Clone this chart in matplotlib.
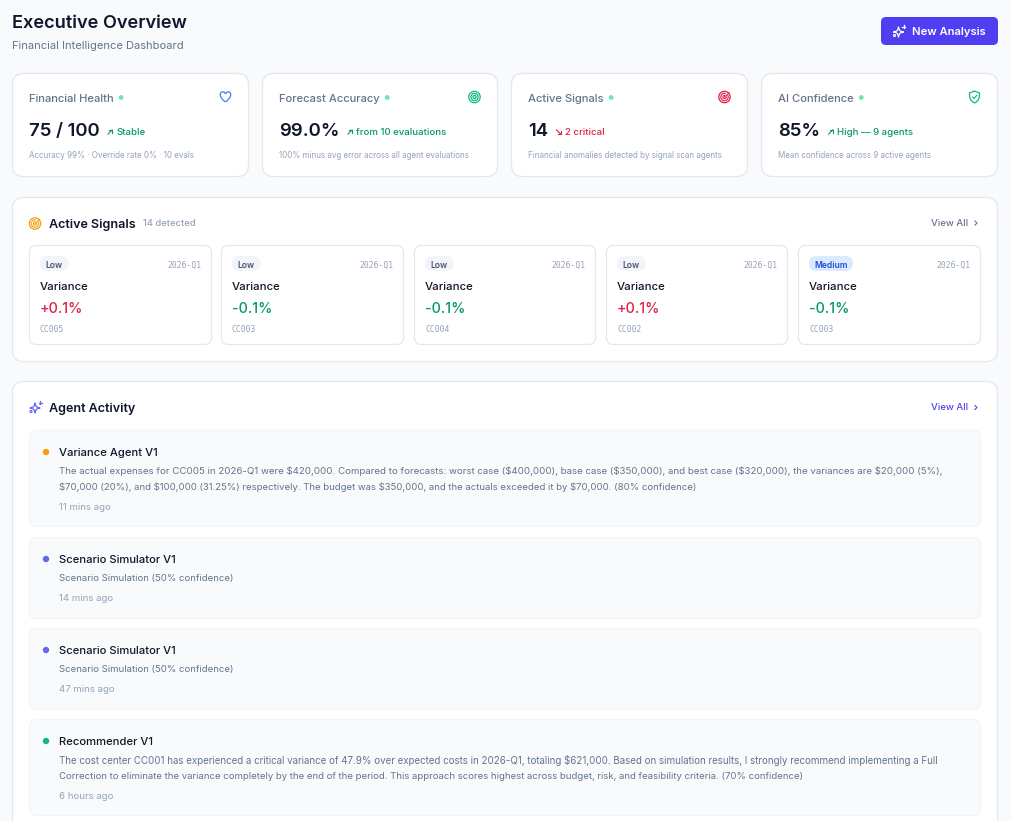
import matplotlib
matplotlib.use("Agg")
import matplotlib.pyplot as plt
from matplotlib.patches import FancyBboxPatch, Circle, PathPatch, Arc
from matplotlib.path import Path

plt.rcParams['font.family'] = ['Inter', 'DejaVu Sans']

# stat cards
card_labels = ["Financial Health", "Forecast Accuracy", "Active Signals", "AI Confidence"]
card_values = ["75 / 100", "99.0%", "14", "85%"]
card_deltas = ["Stable", "from 10 evaluations", "2 critical", "High — 9 agents"]
card_notes = ["Accuracy 99% · Override rate 0% · 10 evals",
              "100% minus avg error across all agent evaluations",
              "Financial anomalies detected by signal scan agents",
              "Mean confidence across 9 active agents"]
card_icons = ["heart", "target", "radar", "shield"]

# signal cards
signal_levels = ["Low", "Low", "Low", "Low", "Medium"]
signal_periods = ["2026-Q1"] * 5
signal_names = ["Variance"] * 5
signal_values = ["+0.1%", "-0.1%", "-0.1%", "+0.1%", "-0.1%"]
signal_codes = ["CC005", "CC003", "CC004", "CC002", "CC003"]

# agent activity
agent_names = ["Variance Agent V1", "Scenario Simulator V1", "Scenario Simulator V1", "Recommender V1"]
agent_times = ["11 mins ago", "14 mins ago", "47 mins ago", "6 hours ago"]
agent_colors = ["#f59e0b", "#6366f1", "#6366f1", "#10b981"]
agent_texts = [
    ["The actual expenses for CC005 in 2026-Q1 were $420,000. Compared to forecasts: worst case ($400,000), base case ($350,000), and best case ($320,000), the variances are $20,000 (5%),",
     "$70,000 (20%), and $100,000 (31.25%) respectively. The budget was $350,000, and the actuals exceeded it by $70,000. (80% confidence)"],
    ["Scenario Simulation (50% confidence)"],
    ["Scenario Simulation (50% confidence)"],
    ["The cost center CC001 has experienced a critical variance of 47.9% over expected costs in 2026-Q1, totaling $621,000. Based on simulation results, I strongly recommend implementing a Full",
     "Correction to eliminate the variance completely by the end of the period. This approach scores highest across budget, risk, and feasibility criteria. (70% confidence)"],
]
# browser hinting makes each line a touch wider or narrower
agent_line_px = [[9.7, 9.53], [9.55], [9.55], [9.73, 9.56]]

INK = "#0f172a"
SLATE = "#64748b"
MUTED = "#94a3b8"
BORDER = "#e2e8f0"
GREEN = "#059669"
RED = "#e11d48"
BLUE = "#3b82f6"
INDIGO = "#4f3ff0"

W, H = 1011, 821
fig = plt.figure(figsize=(W / 100, H / 100), dpi=100, facecolor="#f8fafc")
ax = fig.add_axes([0, 0, 1, 1])
ax.set_xlim(0, W)
ax.set_ylim(H, 0)
ax.axis("off")


def box(x, y, w, h, r, fc="white", ec=BORDER, lw=0.9, z=1):
    p = FancyBboxPatch((x + r, y + r), w - 2 * r, h - 2 * r, boxstyle=f"round,pad={r},rounding_size={r}",
                       fc=fc, ec=ec, lw=lw, zorder=z, mutation_aspect=1)
    ax.add_patch(p)


def txt(x, y, s, px, color=INK, weight="normal", ha="left", family=None):
    kw = {"family": family} if family else {}
    return ax.text(x, y, s, fontsize=px * 0.72, color=color, fontweight=weight, ha=ha, va="center_baseline",
                   zorder=5, parse_math=False, **kw)


def text_right(t):
    bb = t.get_window_extent(fig.canvas.get_renderer())
    return bb.x1


def arrow(x, y, color, up=True):
    # small trending arrow
    s = -1 if up else 1
    ax.plot([x - 2, x + 2], [y - s * 2, y + s * 2], color=color, lw=0.8, zorder=5)
    ax.plot([x - 1, x + 2, x + 2], [y + s * 2, y + s * 2, y + s * -1], color=color, lw=0.8, zorder=5)


def heart(cx, cy, color):
    verts = [(0, 5.2), (-7, 0.5), (-6.5, -5), (-3, -5.5), (-1, -5.5), (0, -3.5), (0, -3.2),
             (0, -3.5), (1, -5.5), (3, -5.5), (6.5, -5), (7, 0.5), (0, 5.2)]
    codes = [Path.MOVETO] + [Path.CURVE4] * 12
    ax.add_patch(PathPatch(Path([(cx + a * 0.95, cy + b * 0.95) for a, b in verts], codes), fc="none", ec=color,
                           lw=0.9, zorder=5))


def target(cx, cy, color):
    for r, lw in [(5.7, 0.9), (3.6, 0.9), (1.5, 0.9)]:
        ax.add_patch(Circle((cx, cy), r, fc="none", ec=color, lw=lw, zorder=5))


def radar(cx, cy, color):
    ax.add_patch(Circle((cx, cy), 5.7, fc="none", ec=color, lw=0.9, zorder=5))
    for r in [3.7, 1.6]:
        ax.add_patch(Arc((cx, cy), 2 * r, 2 * r, theta1=-30, theta2=290, ec=color, lw=0.8, zorder=5))
    ax.plot([cx, cx + 4.5], [cy, cy - 4], color=color, lw=0.8, zorder=5)


def shield(cx, cy, color):
    verts = [(0, -6), (-5, -4), (-5, -4), (-5, -4), (-5, 0), (-5, 3.5), (0, 6), (5, 3.5), (5, 0), (5, -4), (5, -4),
             (5, -4), (0, -6)]
    codes = [Path.MOVETO] + [Path.CURVE4] * 12
    ax.add_patch(PathPatch(Path([(cx + a, cy + b) for a, b in verts], codes), fc="none", ec=color, lw=0.9, zorder=5))
    ax.plot([cx - 2, cx - 0.5, cx + 2.2], [cy, cy + 1.5, cy - 1.6], color=color, lw=0.8, zorder=5)


def sparkle(cx, cy, color, lw=0.9):
    k = 1.0
    verts = [(0, -5.5), (k, -k), (k, -k), (5.5, 0), (k, k), (k, k), (0, 5.5), (-k, k), (-k, k), (-5.5, 0), (-k, -k),
             (-k, -k), (0, -5.5)]
    codes = [Path.MOVETO] + [Path.CURVE4] * 12
    ax.add_patch(PathPatch(Path([(cx + a * 0.95 - 0.5, cy + b * 0.95 + 0.5) for a, b in verts], codes), fc="none",
                           ec=color, lw=lw, zorder=5))
    ax.plot([cx + 4.5, cx + 4.5], [cy - 6, cy - 3], color=color, lw=lw, zorder=5)
    ax.plot([cx + 3, cx + 6], [cy - 4.5, cy - 4.5], color=color, lw=lw, zorder=5)
    ax.add_patch(Circle((cx - 4.5, cy + 4), 1.0, fc="none", ec=color, lw=lw * 0.9, zorder=5))
    ax.add_patch(Circle((cx - 5, cy + 0.2), 0.5, fc=color, ec="none", zorder=5))


ICONS = {"heart": (heart, BLUE), "target": (target, "#10b981"), "radar": (radar, "#e11d48"), "shield": (shield, "#10b981")}

# header
txt(12, 21.5, "Executive Overview", 18.2, INK, "semibold")
txt(12, 45, "Financial Intelligence Dashboard", 11.15, SLATE)
box(881, 17, 117, 28, 5, fc=INDIGO, ec="none", z=2)
sparkle(899, 31.5, "white", 0.9)
txt(912, 31, "New Analysis", 11.2, "white", "semibold")

# stat cards
card_x = [12.5, 262.5, 511.5, 761.5]
card_w = [236, 235, 236, 236]
for i, x in enumerate(card_x):
    box(x, 73.5, card_w[i], 103, 11)
    t = txt(x + 16.5, 98, card_labels[i], 11.2, SLATE, "medium")
    ax.add_patch(Circle((text_right(t) + 7.5, 97.5), 2.4, fc="#6ee7b7", ec="none", zorder=5))
    v = txt(x + 16.5, 130, card_values[i], 18.6, INK, "semibold")
    col = RED if "critical" in card_deltas[i] else GREEN
    ax_x = text_right(v) + 10.5
    arrow(ax_x, 132, col, up=col == GREEN)
    txt(ax_x + 6.5, 131.5, card_deltas[i], 9.6, col, "medium")
    txt(x + 16.5, 155, card_notes[i], 8.05, MUTED)
    fn, ic = ICONS[card_icons[i]]
    fn(x + card_w[i] - 23, 97, ic)

# signals panel
box(12.5, 197.5, 985, 164, 11)
radar(35, 223.5, "#f59e0b")
txt(49, 223.5, "Active Signals", 12.6, INK, "semibold")
txt(143, 222.5, "14 detected", 9.4, MUTED, "medium")
txt(968, 222.5, "View All", 9.6, SLATE, "medium", ha="right")
ax.plot([975, 977, 975], [221, 223, 225], color=SLATE, lw=0.8, zorder=5)

sig_x = [29.5, 221.5, 414.5, 606.5, 798.5]
sig_w = [182, 182, 181, 181, 182]
for i, x in enumerate(sig_x):
    w = sig_w[i]
    box(x, 245.5, w, 99, 7)
    medium = signal_levels[i] == "Medium"
    pill_w = 44 if medium else 28.5
    box(x + 10.5, 256, pill_w, 15, 7.5, fc="#dbeafe" if medium else "#f1f5f9", ec="none", z=2)
    txt(x + 10.5 + pill_w / 2, 264, signal_levels[i], 8.5, "#1d4ed8" if medium else "#475569", "semibold", ha="center")
    txt(x + w - 10, 264, signal_periods[i], 8.0, MUTED, ha="right", family="DejaVu Sans Mono")
    txt(x + 10.5, 286, signal_names[i], 11.4, INK, "medium")
    txt(x + 10.5, 307.5, signal_values[i], 14.4, RED if signal_values[i][0] == "+" else GREEN, "medium")
    txt(x + 10.5, 328, signal_codes[i], 8, MUTED, family="DejaVu Sans Mono")

# activity panel, runs off the bottom of the page
box(12.5, 381.5, 985, 470, 11)
sparkle(35.5, 407.5, "#6366f1", 0.9)
txt(49, 407.5, "Agent Activity", 12.6, INK, "semibold")
txt(968, 407, "View All", 9.6, "#4f46e5", "medium", ha="right")
ax.plot([975, 977, 975], [405.5, 407.5, 409.5], color="#4f46e5", lw=0.8, zorder=5)

item_top = [430.5, 537.5, 628.5, 719.5]
item_h = [96, 81, 81, 96]
for i, y in enumerate(item_top):
    box(29.5, y, 951, item_h[i], 7, fc="#f8fafc", ec="#f1f5f9", z=2)
    ax.add_patch(Circle((46, y + 21.5), 3.2, fc=agent_colors[i], ec="none", zorder=5))
    txt(59, y + 21.5, agent_names[i], 11.25, INK, "medium")
    for j, line in enumerate(agent_texts[i]):
        txt(59, y + 40 + j * 16, line, agent_line_px[i][j], SLATE)
    txt(59, y + 40 + len(agent_texts[i]) * 16 + 4, agent_times[i], 9.6, MUTED)

fig.savefig("out.png", dpi=100, facecolor=fig.get_facecolor())
